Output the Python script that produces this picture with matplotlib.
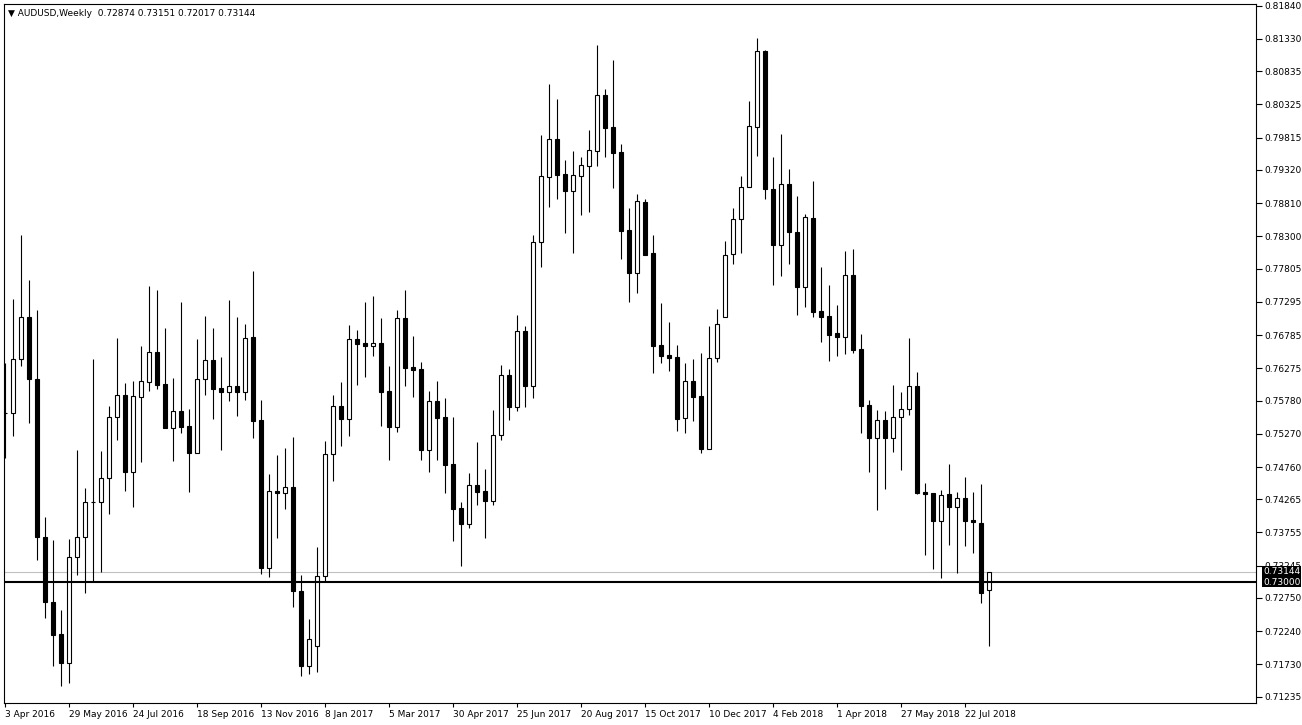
import matplotlib
matplotlib.use('Agg')
import matplotlib.pyplot as plt
import matplotlib.transforms as mtransforms
import numpy as np

# weekly AUDUSD candles, 3 Apr 2016 .. 12 Aug 2018
opens = [0.75588, 0.75593, 0.76413, 0.77067, 0.76115, 0.73691, 0.72693, 0.72193,
         0.71748, 0.73384, 0.73682, 0.74228, 0.74228, 0.74587, 0.75532, 0.75865,
         0.74688, 0.75839, 0.76069, 0.76525, 0.76034, 0.75363, 0.75619, 0.75389,
         0.74980, 0.76106, 0.76402, 0.75977, 0.75915, 0.76003, 0.75915, 0.76750,
         0.75481, 0.73205, 0.74392, 0.74357, 0.74449, 0.72857, 0.71711, 0.72018,
         0.73087, 0.74955, 0.75696, 0.75501, 0.76724, 0.76663, 0.76622, 0.76658,
         0.75926, 0.75378, 0.77042, 0.76290, 0.76260, 0.75021, 0.75773, 0.75532,
         0.74810, 0.74126, 0.73885, 0.74484, 0.74397, 0.74243, 0.75251, 0.76172,
         0.75676, 0.76847, 0.76008, 0.78218, 0.79215, 0.79794, 0.79257, 0.79000,
         0.79230, 0.79384, 0.79614, 0.80469, 0.79973, 0.79594, 0.78397, 0.77742,
         0.78822, 0.78040, 0.76632, 0.76479, 0.76443, 0.75507, 0.76080, 0.75849,
         0.75032, 0.76437, 0.77067, 0.78024, 0.78561, 0.79053, 0.79983, 0.81144,
         0.79022, 0.78172, 0.79099, 0.78362, 0.77527, 0.78577, 0.77154, 0.77078,
         0.76812, 0.76750, 0.77702, 0.76566, 0.75711, 0.75200, 0.75481, 0.75200,
         0.75532, 0.75645, 0.76003, 0.74372, 0.74357, 0.73936, 0.74346, 0.74142,
         0.74280, 0.73947, 0.73905, 0.72874]
highs = [0.76356, 0.77338, 0.78321, 0.77630, 0.77170, 0.73998, 0.73640, 0.72566,
         0.73655, 0.75021, 0.74434, 0.76418, 0.75010, 0.75696, 0.76744, 0.76044,
         0.76080, 0.76617, 0.77538, 0.77476, 0.76889, 0.76126, 0.77292, 0.75650,
         0.76724, 0.77078, 0.76893, 0.76448, 0.77323, 0.77062, 0.76955, 0.77768,
         0.75788, 0.74653, 0.74944, 0.75047, 0.75225, 0.73103, 0.72427, 0.73537,
         0.75159, 0.75865, 0.76064, 0.76939, 0.76862, 0.77288, 0.77384, 0.77051,
         0.76310, 0.77170, 0.77476, 0.76770, 0.76376, 0.75926, 0.76080, 0.75823,
         0.75532, 0.74228, 0.74672, 0.75139, 0.74729, 0.75635, 0.76325, 0.76264,
         0.77093, 0.76924, 0.78321, 0.79855, 0.80638, 0.80408, 0.79471, 0.79610,
         0.79522, 0.79932, 0.81236, 0.80557, 0.81006, 0.79717, 0.78730, 0.78950,
         0.78873, 0.78321, 0.77272, 0.76981, 0.76632, 0.76361, 0.76413, 0.76514,
         0.76924, 0.77185, 0.78233, 0.78730, 0.79230, 0.80382, 0.81339, 0.81160,
         0.79522, 0.79870, 0.79329, 0.78919, 0.78643, 0.79149, 0.77825, 0.77553,
         0.77246, 0.78075, 0.78106, 0.76801, 0.75788, 0.75635, 0.75624, 0.76018,
         0.75915, 0.76744, 0.76222, 0.74510, 0.74357, 0.74407, 0.74806, 0.74381,
         0.74611, 0.74372, 0.74499, 0.73151]
lows = [0.74898, 0.75236, 0.76315, 0.75440, 0.73333, 0.72447, 0.71711, 0.71404,
        0.71441, 0.73103, 0.72822, 0.72991, 0.73153, 0.74039, 0.75174, 0.74397,
        0.74151, 0.74841, 0.75931, 0.75961, 0.75363, 0.74856, 0.75277, 0.74381,
        0.74980, 0.75865, 0.75501, 0.75021, 0.75777, 0.75547, 0.75788, 0.75210,
        0.73114, 0.73077, 0.73666, 0.74111, 0.72616, 0.71552, 0.71583, 0.71618,
        0.72991, 0.74550, 0.75082, 0.75241, 0.76018, 0.76146, 0.76463, 0.75389,
        0.74867, 0.75302, 0.76003, 0.75839, 0.74867, 0.74688, 0.74867, 0.74366,
        0.73624, 0.73245, 0.73819, 0.74177, 0.73666, 0.74177, 0.75174, 0.75481,
        0.75624, 0.75676, 0.75823, 0.77834, 0.78755, 0.78873, 0.78356, 0.78049,
        0.78627, 0.78673, 0.79379, 0.79522, 0.79046, 0.77952, 0.77297, 0.77435,
        0.78012, 0.76207, 0.76361, 0.76238, 0.75317, 0.75286, 0.75471, 0.74980,
        0.75032, 0.76376, 0.77057, 0.77875, 0.78049, 0.79053, 0.79533, 0.78878,
        0.77553, 0.77691, 0.77875, 0.77093, 0.77220, 0.77067, 0.76683, 0.76387,
        0.76463, 0.76489, 0.76514, 0.75286, 0.74688, 0.74100, 0.74423, 0.74995,
        0.74714, 0.75558, 0.74341, 0.73410, 0.73194, 0.73061, 0.73563, 0.73138,
        0.73547, 0.73445, 0.72668, 0.72017]
closes = [0.75588, 0.76413, 0.77067, 0.76115, 0.73691, 0.72693, 0.72182, 0.71748,
          0.73384, 0.73682, 0.74228, 0.74228, 0.74587, 0.75532, 0.75865, 0.74688,
          0.75849, 0.76080, 0.76525, 0.76018, 0.75363, 0.75619, 0.75378, 0.74980,
          0.76111, 0.76402, 0.75961, 0.75915, 0.75998, 0.75915, 0.76735, 0.75471,
          0.73205, 0.74392, 0.74357, 0.74449, 0.72861, 0.71711, 0.72116, 0.73087,
          0.74955, 0.75696, 0.75501, 0.76724, 0.76652, 0.76622, 0.76663, 0.75915,
          0.75378, 0.77042, 0.76284, 0.76249, 0.75021, 0.75773, 0.75516, 0.74791,
          0.74116, 0.73885, 0.74484, 0.74381, 0.74243, 0.75251, 0.76172, 0.75685,
          0.76847, 0.76008, 0.78209, 0.79226, 0.79794, 0.79241, 0.79000, 0.79237,
          0.79395, 0.79625, 0.80469, 0.79967, 0.79584, 0.78386, 0.77742, 0.78838,
          0.78012, 0.76622, 0.76468, 0.76437, 0.75492, 0.76080, 0.75839, 0.75032,
          0.76428, 0.76950, 0.78009, 0.78561, 0.79053, 0.79989, 0.81149, 0.79022,
          0.78172, 0.79099, 0.78362, 0.77527, 0.78592, 0.77143, 0.77067, 0.76790,
          0.76750, 0.77702, 0.76556, 0.75701, 0.75200, 0.75481, 0.75200, 0.75532,
          0.75645, 0.76003, 0.74366, 0.74350, 0.73936, 0.74330, 0.74142, 0.74280,
          0.73936, 0.73911, 0.72831, 0.73144]

date_labels = ['3 Apr 2016', '29 May 2016', '24 Jul 2016', '18 Sep 2016',
               '13 Nov 2016', '8 Jan 2017', '5 Mar 2017', '30 Apr 2017',
               '25 Jun 2017', '20 Aug 2017', '15 Oct 2017', '10 Dec 2017',
               '4 Feb 2018', '1 Apr 2018', '27 May 2018', '22 Jul 2018']
date_index = [0, 8, 16, 24, 32, 40, 48, 56, 64, 72, 80, 88, 96, 104, 112, 120]
price_ticks = [0.81840, 0.81330, 0.80835, 0.80325, 0.79815, 0.79320, 0.78810,
               0.78300, 0.77805, 0.77295, 0.76785, 0.76275, 0.75780, 0.75270,
               0.74760, 0.74265, 0.73755, 0.73245, 0.72750, 0.72240, 0.71730,
               0.71235]
level_line = 0.73000
bid = 0.73144
header = '\u25bc AUDUSD,Weekly  0.72874 0.73151 0.72017 0.73144'

o = np.array(opens); h = np.array(highs); l = np.array(lows); c = np.array(closes)
x = np.arange(len(o))
up = c > o

fig = plt.figure(figsize=(13.02, 7.25), dpi=100)
ax = fig.add_axes([4/1302, 22/725, 1252/1302, 699/725])

ax.vlines(x, l, h, color='black', lw=0.8, zorder=2)
ax.bar(x, np.abs(c - o), width=0.5, bottom=np.minimum(o, c),
       color=np.where(up, 'white', 'black'), edgecolor='black',
       linewidth=0.8, zorder=3)

ax.axhline(bid, color='#c0c0c0', lw=0.8, zorder=1)
ax.axhline(level_line, color='black', lw=1.5, zorder=4)

ax.set_xlim(-0.1625, 156.34)
ax.set_ylim(0.71138, 0.81866)

ax.yaxis.tick_right()
ax.set_yticks(price_ticks)
ax.set_yticklabels(['%.5f' % v for v in price_ticks])
ax.tick_params(axis='y', direction='out', length=4, width=0.8, pad=2,
               labelsize=6.5)
ax.set_xticks(date_index)
ax.set_xticklabels(date_labels)
for lbl in ax.get_xticklabels():
    lbl.set_horizontalalignment('left')
ax.tick_params(axis='x', direction='out', length=3, width=0.8, pad=2,
               labelsize=6.5)
for s in ax.spines.values():
    s.set_linewidth(0.8)

# price boxes on the right scale, stacked like the terminal draws them
mid = (bid + level_line) / 2
trans = mtransforms.blended_transform_factory(ax.transAxes, ax.transData)
up_tr = mtransforms.offset_copy(trans, fig=fig, x=0, y=0.5, units='points')
dn_tr = mtransforms.offset_copy(trans, fig=fig, x=0, y=-0.5, units='points')
ax.text(1.0056, mid, '%.5f' % bid, transform=up_tr, fontsize=6.5,
        color='white', va='bottom', ha='left', zorder=10,
        bbox=dict(facecolor='black', edgecolor='none', pad=0.6))
ax.text(1.0056, mid, '%.5f' % level_line, transform=dn_tr, fontsize=6.5,
        color='white', va='top', ha='left', zorder=10,
        bbox=dict(facecolor='black', edgecolor='none', pad=0.6))

ax.text(0.003, 0.993, header, transform=ax.transAxes, fontsize=6.5,
        va='top', ha='left')

fig.savefig('out.png', dpi=100, facecolor='white')
